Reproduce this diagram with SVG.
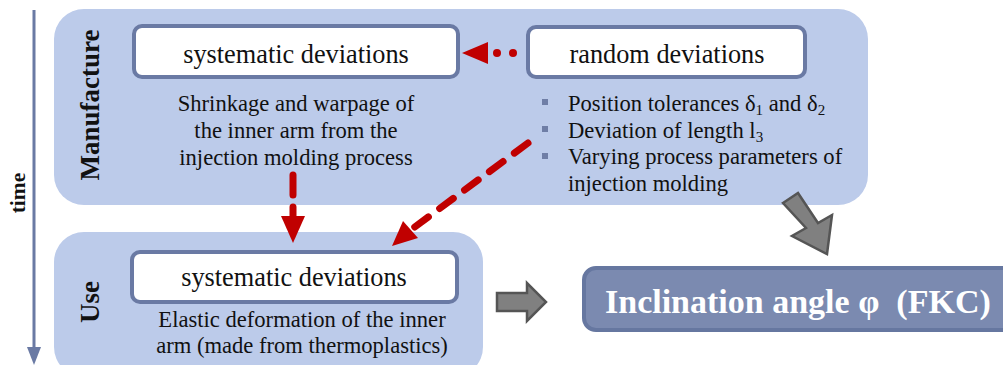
<svg xmlns="http://www.w3.org/2000/svg" width="1003" height="365" viewBox="0 0 1003 365">
<defs>
<style>
.panel{fill:#bccbea}
.box{fill:#fff;stroke:#6a7aa4;stroke-width:4}
text{fill:#111}
.h{font-size:26.3px;text-anchor:middle}
.d{font-size:22.6px;text-anchor:middle}
.b{font-size:22.6px}
.lbl{font-size:27px;font-weight:bold;text-anchor:middle}
.red{stroke:#c00000;fill:none;stroke-linecap:round}
.gray{fill:#808080;stroke:#555;stroke-width:2.5;stroke-linejoin:miter}
.bul{fill:#6f7ea6}
</style>
</defs>
<g font-family="Liberation Serif, Tinos, Times New Roman, DejaVu Serif, serif">
<g id="time-axis">
<line x1="34" y1="10" x2="34" y2="350" stroke="#6a7aa4" stroke-width="3"/>
<path d="M27,347 L41,347 L34,365 Z" fill="#6a7aa4"/>
<text x="0" y="0" transform="translate(25,193) rotate(-90)" font-size="21.5" font-weight="bold" text-anchor="middle">time</text>
</g>
<g id="manufacture">
<rect class="panel" x="54" y="9" width="814" height="196" rx="30"/>
<text class="lbl" transform="translate(99,105) rotate(-90)">Manufacture</text>
</g>
<g id="use">
<rect class="panel" x="54" y="232" width="429" height="145" rx="30"/>
<text class="lbl" transform="translate(99,302) rotate(-90)">Use</text>
</g>
<g id="sys-manufacture">
<rect class="box" x="134" y="26" width="324" height="51" rx="8"/>
<text class="h" x="296" y="62.5">systematic deviations</text>
<text class="d" x="296" y="111">Shrinkage and warpage of</text>
<text class="d" x="296" y="138">the inner arm from the</text>
<text class="d" x="296" y="165">injection molding process</text>
</g>
<g id="random">
<rect class="box" x="528" y="27" width="277" height="50" rx="8"/>
<text class="h" x="667" y="62.5">random deviations</text>
<rect class="bul" x="542" y="99" width="6" height="6"/>
<rect class="bul" x="542" y="126" width="6" height="6"/>
<rect class="bul" x="542" y="153" width="6" height="6"/>
<text class="b" x="568" y="111">Position tolerances δ<tspan font-size="15" dy="4">1</tspan><tspan dy="-4"> and δ</tspan><tspan font-size="15" dy="4">2</tspan></text>
<text class="b" x="568" y="138">Deviation of length l<tspan font-size="15" dy="4">3</tspan></text>
<text class="b" x="568" y="164">Varying process parameters of</text>
<text class="b" x="568" y="191">injection molding</text>
</g>
<g id="sys-use">
<rect class="box" x="132" y="252" width="325" height="50" rx="8"/>
<text class="h" x="294" y="285.5">systematic deviations</text>
<text class="d" x="302" y="327">Elastic deformation of the inner</text>
<text class="d" x="302" y="353">arm (made from thermoplastics)</text>
</g>
<g id="result">
<rect x="584" y="268" width="430" height="62" rx="12" fill="#7b8ab0" stroke="#6677a0" stroke-width="4"/>
<text x="605" y="313" font-size="34" font-weight="bold" fill="#fff" style="fill:#fff" xml:space="preserve">Inclination angle φ  (FKC)</text>
</g>
</g>
<g id="connectors">
<path d="M488,42 L462,53 L488,64 Z" fill="#c00000"/>
<circle cx="497" cy="53" r="4" fill="#c00000"/>
<circle cx="513" cy="53" r="4" fill="#c00000"/>
<path d="M293,175 L293,218" class="red" stroke-width="7" stroke-dasharray="20,12"/>
<path d="M281,216 L305,216 L293,243 Z" fill="#c00000"/>
<path d="M528,143 L412,229" class="red" stroke-width="7" stroke-dasharray="17,14"/>
<path d="M403,221 L418,238 L392,246 Z" fill="#c00000"/>
<path class="gray" d="M497,293 L527,293 L527,283 L546,302 L527,321 L527,311 L497,311 Z"/>
<path class="gray" d="M783,203 L798,193 L818,223 L832,215 L827,254 L792,236 L806,228 Z"/>
</g>
</svg>
